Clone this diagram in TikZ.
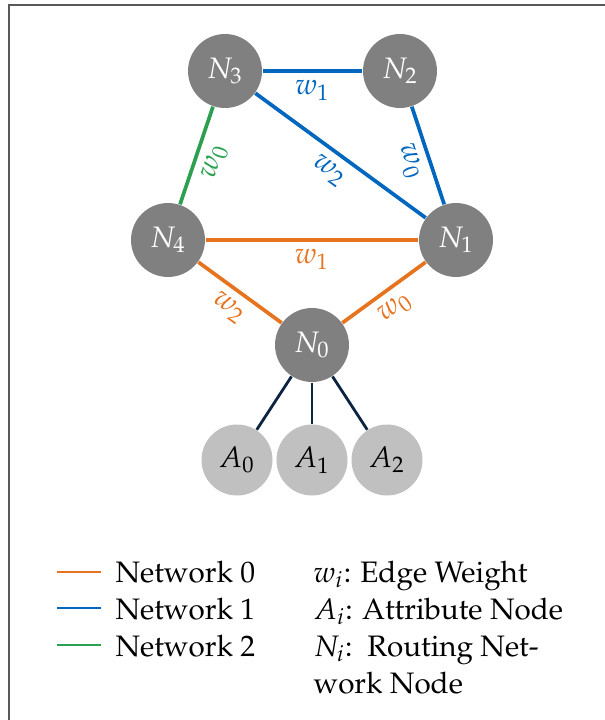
\documentclass[tikz,border=0pt]{standalone}
\usepackage[T1]{fontenc}
\usepackage{mathpazo}
\definecolor{netorange}{RGB}{230,115,30}
\definecolor{netblue}{RGB}{0,102,190}
\definecolor{netgreen}{RGB}{44,160,80}
\definecolor{attrnavy}{RGB}{12,36,66}
\definecolor{routegray}{RGB}{128,128,128}
\definecolor{attrgray}{RGB}{192,192,192}
\begin{document}
\begin{tikzpicture}[x=0.338pt,y=-0.338pt,
  routing/.style={circle,fill=routegray,text=white,minimum size=25pt,inner sep=0pt},
  attribute/.style={circle,fill=attrgray,text=black,minimum size=24pt,inner sep=0pt},
  edge0/.style={netorange,line width=1.25pt},
  edge1/.style={netblue,line width=1.25pt},
  edge2/.style={netgreen,line width=1.25pt},
  attredge/.style={attrnavy,line width=0.95pt},
  weight/.style={midway,below,sloped,inner sep=2.6pt},
  legline/.style={line width=0.7pt},
  legtext/.style={anchor=base west,inner sep=0pt}]
\useasboundingbox (0,0) rectangle (605,720);
% frame edges
\draw[gray!70!black,line width=0.7pt] (9,720) -- (9,5) -- (605,5);

% routing network nodes
\node[routing] (N3) at (225,71) {$N_3$};
\node[routing] (N2) at (400,71) {$N_2$};
\node[routing] (N4) at (168,240) {$N_4$};
\node[routing] (N1) at (456,240) {$N_1$};
\node[routing] (N0) at (312,345) {$N_0$};

% attribute nodes
\node[attribute] (A0) at (237,460) {$A_0$};
\node[attribute] (A1) at (312,460) {$A_1$};
\node[attribute] (A2) at (387,460) {$A_2$};

% network 1
\draw[edge1] (N3) -- node[weight,text=netblue] {$w_1$} (N2);
\draw[edge1] (N3) -- node[weight,text=netblue] {$w_2$} (N1);
\draw[edge1] (N2) -- node[weight,text=netblue] {$w_0$} (N1);
% network 2
\draw[edge2] (N3) -- node[weight,text=netgreen] {$w_0$} (N4);
% network 0
\draw[edge0] (N4) -- node[weight,text=netorange] {$w_1$} (N1);
\draw[edge0] (N4) -- node[weight,text=netorange] {$w_2$} (N0);
\draw[edge0] (N0) -- node[weight,text=netorange] {$w_0$} (N1);

% attribute links
\draw[attredge] (N0) -- (A0);
\draw[attredge] (N0) -- (A1);
\draw[attredge] (N0) -- (A2);

% legend
\coordinate (l0a) at (57,572); \coordinate (l0b) at (101,572);
\coordinate (l1a) at (57,608); \coordinate (l1b) at (101,608);
\coordinate (l2a) at (57,645); \coordinate (l2b) at (101,645);
\draw[legline,netorange] (l0a) -- (l0b);
\draw[legline,netblue] (l1a) -- (l1b);
\draw[legline,netgreen] (l2a) -- (l2b);
\node[legtext] (t0) at (115,582) {Network 0};
\node[legtext] (t1) at (115,619) {Network 1};
\node[legtext] (t2) at (115,656) {Network 2};
\node[legtext] (k0) at (313,582) {$w_i$: Edge Weight};
\node[legtext] (k1) at (313,619) {$A_i$: Attribute Node};
\node[legtext] (k2) at (313,656) {$N_i$:\ \ Routing Net-};
\node[legtext] (k3) at (313,693) {work Node};
\end{tikzpicture}
\end{document}
